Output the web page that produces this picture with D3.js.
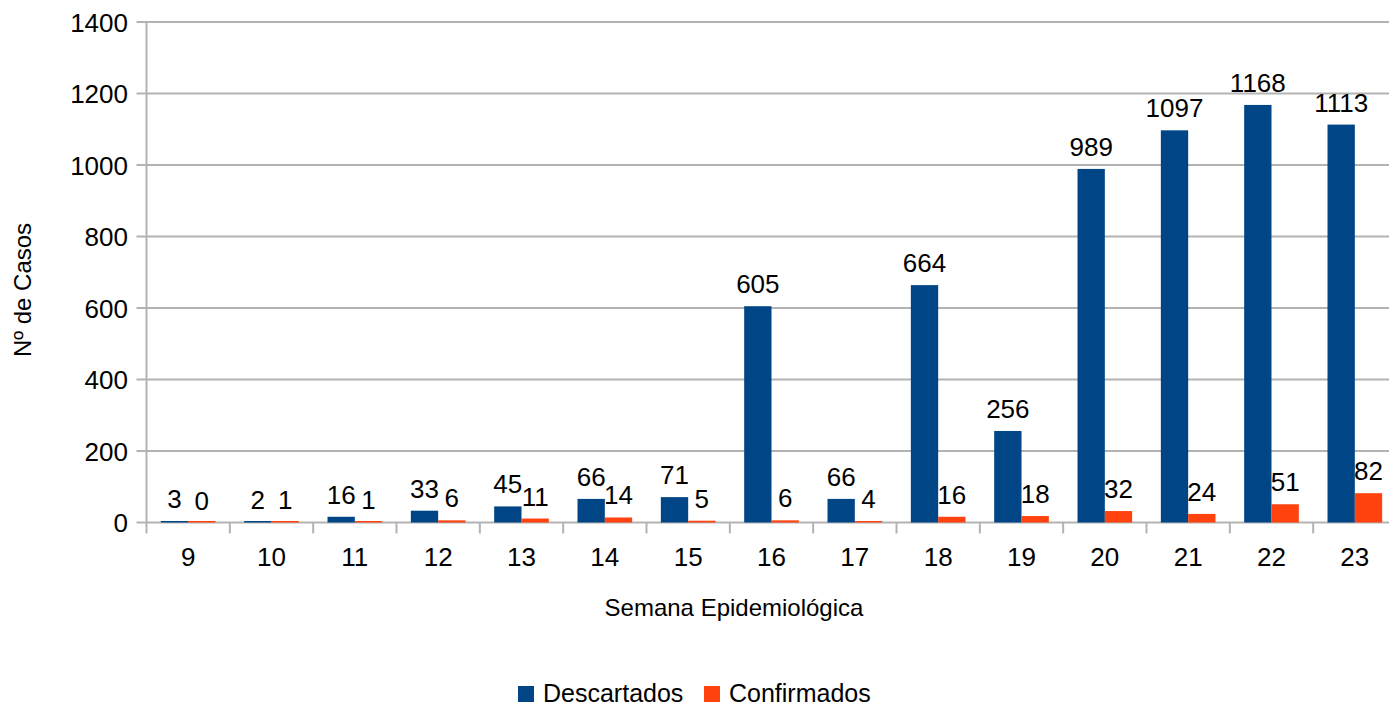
<!DOCTYPE html>
<html>
<head>
<meta charset="utf-8">
<script src="https://cdn.jsdelivr.net/npm/d3@7"></script>
<style>
  html, body { margin: 0; padding: 0; background: #fff; }
  svg { display: block; font-family: "Liberation Sans", Arial, sans-serif; }
</style>
</head>
<body>
<svg id="chart" width="1389" height="708"></svg>
<script>
// Weekly case counts by epidemiological week
const semanas = ["9","10","11","12","13","14","15","16","17","18","19","20","21","22","23"];
const descartados = [3, 2, 16, 33, 45, 66, 71, 605, 66, 664, 256, 989, 1097, 1168, 1113];
const confirmados = [0, 1, 1, 6, 11, 14, 5, 6, 4, 16, 18, 32, 24, 51, 82];
const serieNomes = ["Descartados", "Confirmados"];
const serieCores = ["#004586", "#ff420e"];
const yTicks = [0, 200, 400, 600, 800, 1000, 1200, 1400];

const series = [descartados, confirmados];
const rows = semanas.map((s, i) => ({ semana: s, values: series.map((v, k) => ({ key: serieNomes[k], value: v[i] })) }));

const svg = d3.select("#chart");
const plotLeft = 146.5, plotRight = 1396.5, plotTop = 22, plotBottom = 522.5;

const x0 = d3.scaleBand().domain(semanas).range([plotLeft, plotRight]).padding(0);
const x1 = d3.scaleBand().domain(serieNomes).range([0, x0.bandwidth()]).paddingInner(0).paddingOuter(0.525);
const y = d3.scaleLinear().domain([0, 1400]).range([plotBottom, plotTop]);
const color = d3.scaleOrdinal().domain(serieNomes).range(serieCores);

// Horizontal grid lines with short ticks to the left
svg.append("g").selectAll("line").data(yTicks).join("line")
  .attr("x1", plotLeft - 10).attr("x2", plotRight)
  .attr("y1", d => y(d)).attr("y2", d => y(d))
  .attr("stroke", "#b3b3b3").attr("stroke-width", 2);

// Y axis tick labels
svg.append("g").selectAll("text").data(yTicks).join("text")
  .attr("x", 128).attr("y", d => y(d) + 9.5)
  .attr("text-anchor", "end").attr("font-size", 26).attr("fill", "#000")
  .text(d => d);

// Vertical axis line
svg.append("line")
  .attr("x1", plotLeft).attr("x2", plotLeft).attr("y1", plotTop).attr("y2", plotBottom + 11)
  .attr("stroke", "#b3b3b3").attr("stroke-width", 2);

// Category boundary ticks below the axis
svg.append("g").selectAll("line").data(semanas).join("line")
  .attr("x1", d => x0(d) + x0.step())
  .attr("x2", d => x0(d) + x0.step())
  .attr("y1", plotBottom).attr("y2", plotBottom + 11)
  .attr("stroke", "#b3b3b3").attr("stroke-width", 2);

// Bars
const groups = svg.append("g").selectAll("g").data(rows).join("g")
  .attr("transform", d => `translate(${x0(d.semana)},0)`);

groups.selectAll("rect").data(d => d.values).join("rect")
  .attr("x", d => x1(d.key)).attr("width", x1.bandwidth())
  .attr("y", d => Math.min(y(d.value), plotBottom - 1.5))
  .attr("height", d => Math.max(plotBottom - y(d.value), 1.5))
  .attr("fill", d => color(d.key));

// Value labels above bars
groups.selectAll("text").data(d => d.values).join("text")
  .attr("x", d => x1(d.key) + x1.bandwidth() / 2)
  .attr("y", d => y(d.value) - 13)
  .attr("text-anchor", "middle").attr("font-size", 26).attr("fill", "#000")
  .text(d => d.value);

// X axis category labels
svg.append("g").selectAll("text").data(semanas).join("text")
  .attr("x", d => x0(d) + x0.bandwidth() / 2).attr("y", 566)
  .attr("text-anchor", "middle").attr("font-size", 26).attr("fill", "#000")
  .text(d => d);

// Axis titles
svg.append("text")
  .attr("x", 734).attr("y", 616)
  .attr("text-anchor", "middle").attr("font-size", 24).attr("fill", "#000")
  .text("Semana Epidemiológica");

svg.append("text")
  .attr("transform", "translate(31,290) rotate(-90)")
  .attr("text-anchor", "middle").attr("font-size", 24).attr("fill", "#000")
  .text("Nº de Casos");

// Legend
const legendPos = [{ x: 518, tx: 543 }, { x: 704, tx: 729 }];
const legend = svg.append("g").selectAll("g").data(serieNomes).join("g");
legend.append("rect")
  .attr("x", (d, i) => legendPos[i].x).attr("y", 686)
  .attr("width", 16).attr("height", 16)
  .attr("fill", d => color(d));
legend.append("text")
  .attr("x", (d, i) => legendPos[i].tx).attr("y", 702)
  .attr("font-size", 25).attr("fill", "#000")
  .text(d => d);
</script>
</body>
</html>
